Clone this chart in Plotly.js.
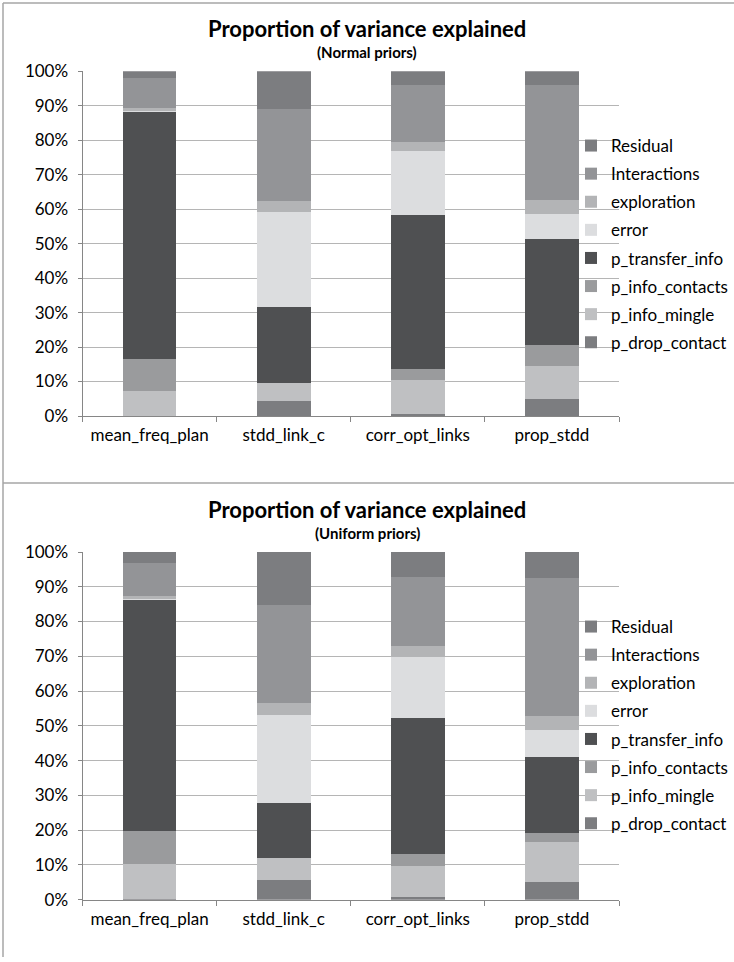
<!DOCTYPE html>
<html>
<head>
<meta charset="utf-8">
<script src="https://cdn.plot.ly/plotly-3.0.1.min.js"></script>
<style>html,body{margin:0;padding:0;background:#fff;}#chart{width:734px;height:962px;}</style>
</head>
<body>
<div id="chart"></div>
<script>
// Categories and series (percent of variance explained)
const categories = ['mean_freq_plan', 'stdd_link_c', 'corr_opt_links', 'prop_stdd'];
const seriesNames = ['p_drop_contact', 'p_info_mingle', 'p_info_contacts', 'p_transfer_info', 'error', 'exploration', 'Interactions', 'Residual'];
const seriesColors = ['#7c7d80', '#bfc0c2', '#9a9b9d', '#4f5052', '#dcdddf', '#b3b4b6', '#939497', '#7c7d80'];

// Normal priors
const normal_p_drop_contact  = [0.0, 4.3, 0.6, 4.9];
const normal_p_info_mingle   = [7.3, 5.2, 9.9, 9.7];
const normal_p_info_contacts = [9.3, 0.0, 3.2, 6.0];
const normal_p_transfer_info = [71.6, 22.1, 44.5, 30.8];
const normal_error           = [0.3, 27.6, 18.8, 7.2];
const normal_exploration     = [0.8, 3.2, 2.4, 4.1];
const normal_interactions    = [8.8, 26.7, 16.5, 33.2];
const normal_residual        = [1.9, 10.9, 4.1, 4.1];

// Uniform priors
const uniform_p_drop_contact  = [0.3, 5.7, 0.9, 5.1];
const uniform_p_info_mingle   = [9.9, 6.2, 8.8, 11.5];
const uniform_p_info_contacts = [9.6, 0.0, 3.5, 2.7];
const uniform_p_transfer_info = [66.4, 16.0, 39.0, 21.6];
const uniform_error           = [0.3, 25.1, 17.5, 7.9];
const uniform_exploration     = [0.8, 3.5, 3.2, 4.1];
const uniform_interactions    = [9.5, 28.2, 19.8, 39.6];
const uniform_residual        = [3.2, 15.3, 7.3, 7.5];

const yTickVals = [0, 10, 20, 30, 40, 50, 60, 70, 80, 90, 100];
const yTickText = ['0%', '10%', '20%', '30%', '40%', '50%', '60%', '70%', '80%', '90%', '100%'];
const titleText = 'Proportion of variance explained';
const subNormal = '(Normal priors)';
const subUniform = '(Uniform priors)';

const normalSeries = [normal_p_drop_contact, normal_p_info_mingle, normal_p_info_contacts, normal_p_transfer_info, normal_error, normal_exploration, normal_interactions, normal_residual];
const uniformSeries = [uniform_p_drop_contact, uniform_p_info_mingle, uniform_p_info_contacts, uniform_p_transfer_info, uniform_error, uniform_exploration, uniform_interactions, uniform_residual];

const FONT = 'Lato, "Open Sans", sans-serif';
const W = 734, H = 962;
const py = v => 1 - v / H;
const px = v => v / W;

const traces = [];
seriesNames.forEach((name, i) => {
  traces.push({
    type: 'bar', x: categories, y: normalSeries[i], name: name,
    marker: {color: seriesColors[i], line: {width: 0}},
    xaxis: 'x', yaxis: 'y', legend: 'legend', legendgroup: 'n' + i,
    legendrank: seriesNames.length - i,
    hoverinfo: 'name+y'
  });
});
seriesNames.forEach((name, i) => {
  traces.push({
    type: 'bar', x: categories, y: uniformSeries[i], name: name,
    marker: {color: seriesColors[i], line: {width: 0}},
    xaxis: 'x2', yaxis: 'y2', legend: 'legend2', legendgroup: 'u' + i,
    legendrank: seriesNames.length - i,
    hoverinfo: 'name+y'
  });
});

const xCommon = {
  type: 'category', domain: [px(82.5), px(619)],
  showline: true, linecolor: '#868686', linewidth: 1,
  ticks: 'outside', tickson: 'boundaries', ticklen: 5, tickcolor: '#868686',
  ticklabelstandoff: 4,
  tickfont: {family: FONT, size: 17, color: '#000'},
  showgrid: false, fixedrange: true
};
const yCommon = {
  range: [0, 100], tickmode: 'array', tickvals: yTickVals, ticktext: yTickText,
  showline: true, linecolor: '#868686', linewidth: 1,
  ticks: 'outside', ticklen: 4, tickcolor: '#868686',
  ticklabelstandoff: 6,
  showgrid: true, gridcolor: '#b5b5b5', gridwidth: 1,
  zeroline: false,
  tickfont: {family: FONT, size: 17, color: '#000'},
  fixedrange: true
};

const legendCommon = {
  traceorder: 'grouped', tracegroupgap: 3,
  font: {family: FONT, size: 17, color: '#000'},
  bgcolor: 'rgba(0,0,0,0)', borderwidth: 0,
  xanchor: 'left', yanchor: 'top', itemwidth: 30
};

const layout = {
  width: W, height: H,
  margin: {l: 0, r: 0, t: 0, b: 0},
  paper_bgcolor: '#fff', plot_bgcolor: '#fff',
  barmode: 'stack', bargap: 0.6,
  showlegend: true,
  xaxis: Object.assign({}, xCommon, {anchor: 'y'}),
  yaxis: Object.assign({}, yCommon, {domain: [py(416), py(71.3)], anchor: 'x'}),
  xaxis2: Object.assign({}, xCommon, {anchor: 'y2'}),
  yaxis2: Object.assign({}, yCommon, {domain: [py(899.7), py(552)], anchor: 'x2'}),
  legend: Object.assign({}, legendCommon, {x: px(571), y: py(128)}),
  legend2: Object.assign({}, legendCommon, {x: px(571), y: py(609)}),
  annotations: [
    {text: '<b>' + titleText + '</b>', xref: 'paper', yref: 'paper', x: 0.5, y: py(28), xanchor: 'center', yanchor: 'middle', showarrow: false, font: {family: FONT, size: 22, color: '#000'}},
    {text: '<b>' + subNormal + '</b>', xref: 'paper', yref: 'paper', x: 0.5, y: py(52), xanchor: 'center', yanchor: 'middle', showarrow: false, font: {family: FONT, size: 15, color: '#000'}},
    {text: '<b>' + titleText + '</b>', xref: 'paper', yref: 'paper', x: 0.5, y: py(509), xanchor: 'center', yanchor: 'middle', showarrow: false, font: {family: FONT, size: 22, color: '#000'}},
    {text: '<b>' + subUniform + '</b>', xref: 'paper', yref: 'paper', x: 0.5, y: py(533), xanchor: 'center', yanchor: 'middle', showarrow: false, font: {family: FONT, size: 15, color: '#000'}}
  ],
  shapes: [
    {type: 'line', xref: 'paper', yref: 'paper', x0: px(3), x1: 1, y0: py(3), y1: py(3), line: {color: '#a6a6a6', width: 1.5}},
    {type: 'line', xref: 'paper', yref: 'paper', x0: px(3), x1: px(3), y0: py(3), y1: py(957), line: {color: '#a6a6a6', width: 1.5}},
    {type: 'line', xref: 'paper', yref: 'paper', x0: px(3), x1: 1, y0: py(483), y1: py(483), line: {color: '#a6a6a6', width: 1.5}}
  ]
};

Plotly.newPlot('chart', traces, layout, {displayModeBar: false, staticPlot: true});
</script>
</body>
</html>
